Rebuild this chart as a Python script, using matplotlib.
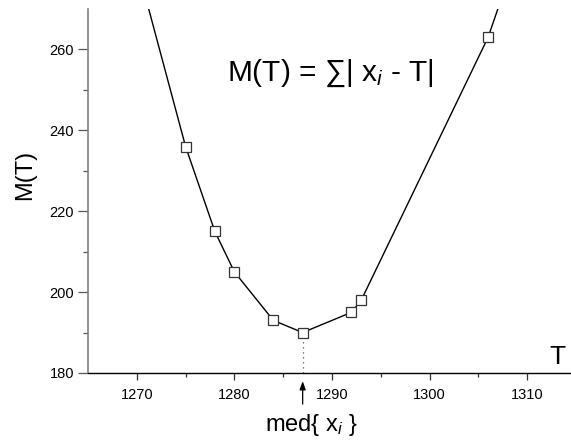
import matplotlib
matplotlib.use("Agg")
import matplotlib.pyplot as plt

plt.rcParams['font.family'] = ['Liberation Sans', 'DejaVu Sans']
plt.rcParams['mathtext.fontset'] = 'custom'
plt.rcParams['mathtext.rm'] = 'Liberation Sans'
plt.rcParams['mathtext.it'] = 'Liberation Sans:italic'

# sample points x_i and the sum of absolute deviations there
t_points = [1275, 1278, 1280, 1284, 1287, 1292, 1293, 1306]
m_points = [236, 215, 205, 193, 190, 195, 198, 263]

# the piecewise-linear curve continues past the outer points
t_curve = [1271] + t_points + [1308]
m_curve = [272] + m_points + [277]

t_median = 1287
m_median = 190

fig = plt.figure(figsize=(5.71, 4.41), dpi=100)
ax = fig.add_axes([0.1541, 0.1542, 0.8545, 0.8254])

ax.plot(t_curve, m_curve, color='black', linewidth=1.0, zorder=2)
ax.plot(t_points, m_points, linestyle='none', marker='s', markersize=6.5,
        markerfacecolor='white', markeredgecolor='#333333', markeredgewidth=0.9, zorder=3)

# dotted drop from the minimum to the axis
ax.plot([t_median, t_median], [180, m_median - 1.2], linestyle=(0, (1, 3)),
        color='#555555', linewidth=0.9, zorder=1)

ax.set_xlim(1265, 1315)
ax.set_ylim(180, 270)
ax.set_xticks([1270, 1280, 1290, 1300, 1310])
ax.set_xticks([1275, 1285, 1295, 1305], minor=True)
ax.set_yticks([180, 200, 220, 240, 260])
ax.set_yticks([190, 210, 230, 250], minor=True)

for s in ['top', 'right']:
    ax.spines[s].set_visible(False)
ax.spines['left'].set_color('#808080')
ax.spines['left'].set_linewidth(1.2)
ax.spines['bottom'].set_color('black')
ax.spines['bottom'].set_linewidth(1.0)

ax.tick_params(axis='x', which='major', direction='out', length=5, width=0.9,
               color='#333333', labelsize=10.5, pad=6)
ax.tick_params(axis='x', which='minor', direction='out', length=3, width=0.9, color='#333333')
ax.tick_params(axis='y', which='major', direction='out', length=7, width=0.9,
               color='#555555', labelsize=10.5, pad=3)
ax.tick_params(axis='y', which='minor', direction='out', length=3.5, width=0.9, color='#555555')

# axis titles
fig.text(25 / 571, 1 - 175 / 441, 'M(T)', rotation=90, fontsize=17,
         ha='center', va='center')
fig.text(557 / 571, 1 - 357 / 441, 'T', fontsize=19, ha='center', va='center')

# formula
fig.text(227 / 571, 1 - 73 / 441, r'M(T) = ∑| x$_i$ - T|', fontsize=21.5,
         ha='left', va='center')

# median marker below the axis
ax.annotate('', xy=(t_median, 178.0), xytext=(t_median, 172.3),
            arrowprops=dict(arrowstyle='-|>,head_length=0.5,head_width=0.18',
                            color='black', linewidth=0.9, shrinkA=0, shrinkB=0),
            annotation_clip=False)
fig.text(311 / 571, 1 - 425 / 441, r'med{ x$_i$ }', fontsize=17,
         ha='center', va='center')

fig.savefig('out.png', dpi=100)
